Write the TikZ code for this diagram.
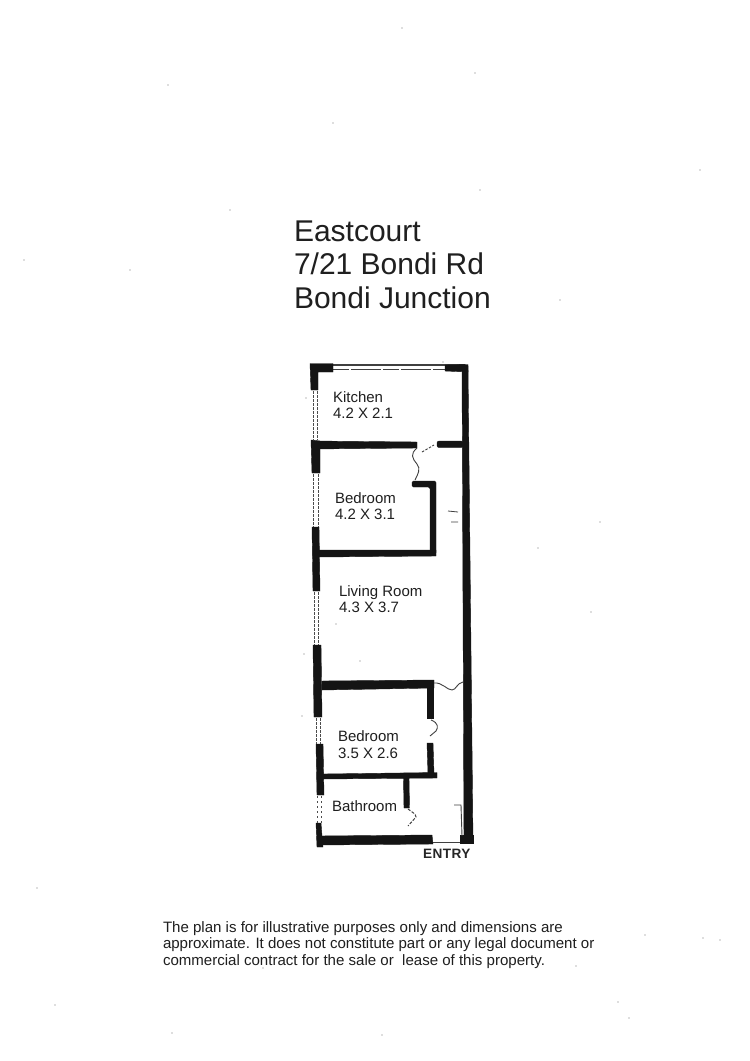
\documentclass[tikz,border=0pt]{standalone}
\usepackage{fontspec}
\setmainfont{Liberation Sans}
\begin{document}
\begin{tikzpicture}[x=1pt,y=-1pt,
  txt/.style={anchor=base west,inner sep=0pt,outer sep=0pt,text=black!88},
  title/.style={txt,font=\fontsize{30}{30}\selectfont},
  room/.style={txt,font=\fontsize{15}{15}\selectfont},
  note/.style={txt,font=\fontsize{15.05}{15}\selectfont},
  entrytxt/.style={anchor=base west,inner sep=0pt,font=\bfseries\fontsize{13.6}{13}\selectfont\addfontfeatures{LetterSpace=3},text=black!85},
  wall/.style={fill=black!92,draw=black!92,line width=.4pt},
  thin/.style={draw=black!75,line width=.7pt},
  win/.style={draw=black!70,line width=1pt,dash pattern=on 3pt off 1pt},
  speck/.style={fill=black!55,draw=none}]
\useasboundingbox (0,0) rectangle (750,1061);
\fill[white] (0,0) rectangle (750,1061);
% titles
\node[title] (t1) at (294,241) {Eastcourt};
\node[title] (t2) at (294,274.5) {7/21 Bondi Rd};
\node[title] (t3) at (294,308) {Bondi Junction};
% top wall
\draw[thin,line width=1.2pt] (333,365) -- (465,365);
\draw[thin,line width=1pt,dash pattern=on 16pt off 2pt on 30pt off 2pt] (333,369) -- (446,369);
\fill[wall] (310,363.5) -- (333,363.5) -- (333,372) -- (318,372) -- (318,390) -- (311,390) -- cycle;
\fill[wall] (445,365) -- (468,364.5) -- (468,372) -- (445,371) -- cycle;
% right wall
\fill[wall] (462,366) -- (468,366) -- (473,842) -- (464,842) -- cycle;
% left wall
\fill[wall] (311,440) -- (320,441) -- (320,473) -- (312,473) -- cycle;
\fill[wall] (312,527) -- (319,527) -- (320,591) -- (313,591) -- cycle;
\fill[wall] (313,645) -- (321,645) -- (322,717) -- (314,717) -- cycle;
\fill[wall] (316,744) -- (323,744) -- (324,795) -- (317,795) -- cycle;
\fill[wall] (316,823) -- (321,823) -- (322,836) -- (323,847) -- (317,847) -- cycle;
% left windows
\draw[win] (313,391) -- (313,440) (317,391) -- (317,440);
\draw[win] (313,474) -- (313,527) (318,474) -- (318,527);
\draw[win] (314,592) -- (314,645) (318,592) -- (318,645);
\draw[win] (316,718) -- (316,744) (320,718) -- (320,744);
\draw[win,dash pattern=on 2pt off 3pt] (317,796) -- (317,823) (321,796) -- (321,823);
% kitchen/bedroom wall
\fill[wall] (312,441) -- (417,442) -- (417,448) -- (312,449) -- cycle;
\fill[wall,rounded corners=2pt] (437,441) -- (463,441) -- (463,447.5) -- (437,447.5) -- cycle;
% door upper
\draw[thin,line width=.9pt] (417,448) .. controls (410,454) and (412,458) .. (417,464) .. controls (421,469) and (418,474) .. (415,480);
\draw[thin,line width=.9pt,dash pattern=on 2.5pt off 1.5pt] (422,452) -- (434,445);
% bedroom 1
\fill[wall,rounded corners=1.5pt] (412,481) -- (436,481) -- (436,554) -- (430,556.5) -- (430,487) -- (412,487) -- cycle;
\fill[wall] (319,550) -- (436,550) -- (436,556) -- (319,557) -- cycle;
% bedroom 2
\fill[wall] (322,681) -- (434,680) -- (434,688) -- (322,690) -- cycle;
\fill[wall] (427,688) -- (433,688) -- (433,718) -- (427,718) -- cycle;
\fill[wall] (427,743) -- (433,743) -- (434,774) -- (428,774) -- cycle;
\fill[wall] (323,774) -- (437,772.5) -- (437,778) -- (323,779) -- cycle;
% bathroom
\fill[wall] (403.5,778) -- (409,778) -- (409.5,808) -- (404,808) -- cycle;
\fill[wall] (318,836) -- (432,835) -- (433,844) -- (320,845) -- cycle;
\fill[wall] (460,835) -- (473,835) -- (473,843) -- (460,843) -- cycle;
\draw[thin,line width=.6pt] (433,842) -- (460,842);
\draw[thin,line width=.9pt] (454,805) -- (461,805) -- (462,836);
% doors
\draw[thin,line width=.9pt] (434,683) .. controls (442,682) and (447,690) .. (452,690) .. controls (456,690) and (457,683) .. (463,682);
\draw[thin,line width=.9pt] (431,720) .. controls (439,723) and (438,728) .. (436,731) -- (430,736);
\draw[thin,line width=1pt,dash pattern=on 3pt off 1.5pt] (408,809) .. controls (412,812) and (416,814) .. (416,817) -- (408,826);
% rooms
\node[room] (r1) at (333,402) {Kitchen};
\node[room] (r1b) at (333,418.5) {4.2 X 2.1};
\node[room] (r2) at (335,503) {Bedroom};
\node[room] (r2b) at (335,519.5) {4.2 X 3.1};
\node[room] (r3) at (339,596) {Living Room};
\node[room] (r3b) at (339,612) {4.3 X 3.7};
\node[room] (r4) at (338,741) {Bedroom};
\node[room] (r4b) at (338,758) {3.5 X 2.6};
\node[room] (r5) at (332,811) {Bathroom};
\node[entrytxt] (e) at (423,858) {ENTRY};
% footer
\node[note] (n1) at (163,932) {The plan is for illustrative purposes only and dimensions are};
\node[note] (n2) at (163,948.5) {approximate. It does not constitute part or any legal document or};
\node[note] (n3) at (163,965.5) {commercial contract for the sale or\ \ lease of this property.};
% specks
\foreach \a/\b in {402/28,168/85,475/73,333/123,130/270,24/260,538/548,591/612,37/888,703/938,645/935,618/1002,263/968,629/1018,172/1033,600/522,336/624,360/661,304/654,302/716,443/362,306/398,720/940,576/966,55/1005,382/1035,700/170,230/210,480/190,560/300}
  \fill[speck] (\a,\b) circle (.7pt);
\draw[thin,line width=.8pt] (448,511) -- (458,512) (451,522) -- (458,522);
\end{tikzpicture}
\end{document}
